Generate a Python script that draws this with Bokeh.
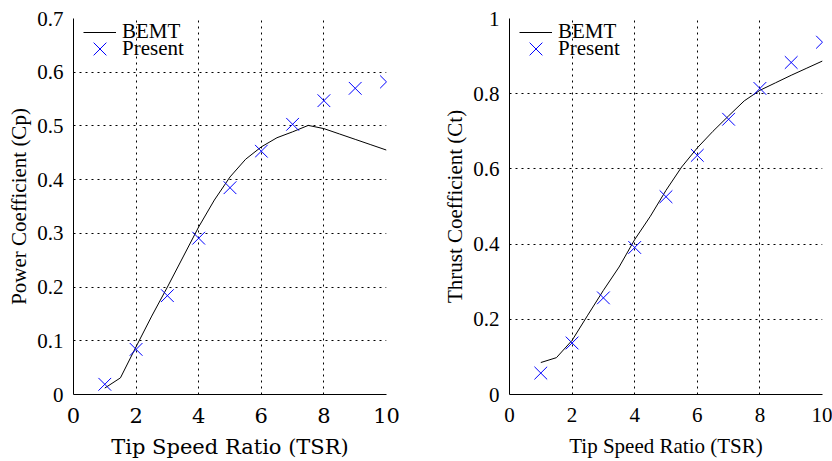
from bokeh.plotting import figure
from bokeh.layouts import row
from bokeh.models import Range1d, FixedTicker, CustomJSTickFormatter, Legend, LegendItem
from bokeh.embed import file_html
from bokeh.resources import INLINE

# ---- data ----
tsr_bemt = [1, 1.5, 2, 2.5, 3, 3.5, 4, 4.5, 5, 5.5, 6, 6.5, 7, 7.5, 8, 8.5, 9, 9.5, 10]
cp_bemt = [0.012, 0.031, 0.089, 0.146, 0.200, 0.256, 0.312, 0.362, 0.405, 0.438,
           0.461, 0.478, 0.489, 0.501, 0.495, 0.485, 0.475, 0.465, 0.455]
ct_bemt = [0.085, 0.098, 0.144, 0.211, 0.277, 0.339, 0.412, 0.474, 0.543, 0.605,
           0.656, 0.700, 0.741, 0.781, 0.809, 0.829, 0.849, 0.868, 0.887]

tsr_present = [1, 2, 3, 4, 5, 6, 7, 8, 9, 10]
cp_present = [0.019, 0.084, 0.184, 0.291, 0.385, 0.453, 0.503, 0.547, 0.570, 0.582]
ct_present = [0.057, 0.137, 0.257, 0.391, 0.526, 0.636, 0.732, 0.814, 0.883, 0.937]

x_ticks = [0, 2, 4, 6, 8, 10]
cp_ticks = [0, 0.1, 0.2, 0.3, 0.4, 0.5, 0.6, 0.7]
ct_ticks = [0, 0.2, 0.4, 0.6, 0.8, 1]

series_names = ["BEMT", "Present"]
x_title = "Tip Speed Ratio (TSR)"
cp_title = "Power Coefficient (Cp)"
ct_title = "Thrust Coefficient (Ct)"

LEG_FONT = "'Liberation Serif', 'Times New Roman', serif"
FS = "21px"
H = 461
TOP = 18
FH = 376


def make_legend(item, vx, vy, gw, gh, standoff):
    return Legend(items=[item], location=(vx, vy), padding=0, margin=0, spacing=0,
                  glyph_width=gw, glyph_height=gh, label_height=18,
                  label_standoff=standoff,
                  label_text_font=LEG_FONT, label_text_font_size=FS,
                  label_text_color="black",
                  border_line_color=None, background_fill_alpha=0)


def make_panel(width, mbl, mbr, y_end, y_ticks, y_title, y_bemt, y_pres, fx, fy):
    p = figure(width=width, height=H, x_range=Range1d(0, 10), y_range=Range1d(0, y_end),
               output_backend="svg", toolbar_location=None,
               min_border_left=mbl, min_border_right=mbr,
               min_border_top=TOP, min_border_bottom=H - TOP - FH)
    p.outline_line_color = None
    p.background_fill_color = "white"
    p.border_fill_color = "white"

    fmt = CustomJSTickFormatter(code="return tick.toFixed(1).replace(/\\.0$/, '');")
    p.xaxis.ticker = FixedTicker(ticks=x_ticks)
    p.yaxis.ticker = FixedTicker(ticks=y_ticks)
    p.xaxis.formatter = fmt
    p.yaxis.formatter = fmt

    for axs in (p.xaxis, p.yaxis):
        axs.major_tick_in = 0
        axs.major_tick_out = 0
        axs.minor_tick_in = 0
        axs.minor_tick_out = 0
        axs.axis_line_color = "black"
        axs.axis_line_width = 1
        axs.major_label_text_font_size = FS
        axs.major_label_text_color = "black"
        axs.axis_label_text_font_size = FS
        axs.axis_label_text_font_style = "normal"
        axs.axis_label_text_color = "black"

    p.xaxis.major_label_text_font = fx
    p.xaxis.axis_label_text_font = fx
    p.yaxis.major_label_text_font = fy
    p.yaxis.axis_label_text_font = fy

    p.xaxis.axis_label = x_title
    p.yaxis.axis_label = y_title
    p.xaxis.major_label_standoff = 13
    p.xaxis.axis_label_standoff = 9
    p.yaxis.major_label_standoff = 10
    p.yaxis.axis_label_standoff = 3

    for g in (p.xgrid[0], p.ygrid[0]):
        g.grid_line_color = "black"
        g.grid_line_dash = "2 4"
        g.grid_line_width = 1

    r_line = p.line(tsr_bemt, y_bemt, line_color="black", line_width=1)
    r_pts = p.scatter(tsr_present, y_pres, marker="x", size=18, line_color="#0000ff",
                      line_width=1)

    p.add_layout(make_legend(LegendItem(label=series_names[0], renderers=[r_line]),
                             10, 350, 33, 18, 6))
    p.add_layout(make_legend(LegendItem(label=series_names[1], renderers=[r_pts]),
                             4, 323, 45, 45, 0))
    return p


p1 = make_panel(420, 73, 34, 0.7, cp_ticks, cp_title, cp_bemt, cp_present,
                "DejaVu Serif", "serif")
p2 = make_panel(412, 89, 10, 1.0, ct_ticks, ct_title, ct_bemt, ct_present,
                "Liberation Serif", LEG_FONT)

layout = row(p1, p2)
open("out.html", "w").write(file_html(layout, INLINE))
